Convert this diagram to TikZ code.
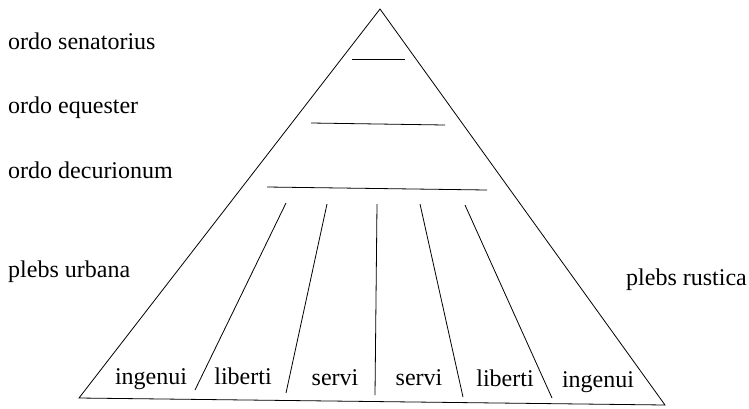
\documentclass[tikz,border=0pt]{standalone}
\usepackage{fontspec}
\setmainfont{Liberation Serif}
\begin{document}
\begin{tikzpicture}[x=1pt,y=-1pt,
  ln/.style={line width=0.8pt,black},
  lab/.style={font=\fontsize{24}{28}\selectfont,inner sep=0pt},
  leftlab/.style={lab,anchor=base west},
  botlab/.style={lab,anchor=base}]
\useasboundingbox (0,0) rectangle (749,408);
% triangle
\coordinate (apex) at (380,9);
\coordinate (bl) at (79,398);
\coordinate (br) at (665,405);
\draw[ln,line join=miter] (apex) -- (bl) -- (br) -- cycle;
% horizontal strata
\coordinate (s1) at (352,59);  \coordinate (s2) at (405,59);
\coordinate (e1) at (311,123); \coordinate (e2) at (445,125);
\coordinate (d1) at (267,187); \coordinate (d2) at (487,190);
\draw[ln] (s1) -- (s2);
\draw[ln] (e1) -- (e2);
\draw[ln] (d1) -- (d2);
% dividers
\coordinate (t1) at (286,203); \coordinate (b1) at (195,390);
\coordinate (t2) at (327,204); \coordinate (b2) at (286,393);
\coordinate (t3) at (377,204); \coordinate (b3) at (375,395);
\coordinate (t4) at (420,204); \coordinate (b4) at (463,397);
\coordinate (t5) at (465,205); \coordinate (b5) at (552,398);
\foreach \i in {1,...,5} \draw[ln] (t\i) -- (b\i);
% labels
\node[leftlab] (sen) at (8,49) {ordo senatorius};
\node[leftlab] (equ) at (8,113) {ordo equester};
\node[leftlab] (dec) at (8,178) {ordo decurionum};
\node[leftlab] (urb) at (8,277) {plebs urbana};
\node[leftlab] (rus) at (626,285) {plebs rustica};
\node[botlab] (ing1) at (151,384) {ingenui};
\node[botlab] (lib1) at (243,384) {liberti};
\node[botlab] (ser1) at (335,385) {servi};
\node[botlab] (ser2) at (419,385) {servi};
\node[botlab] (lib2) at (505,386) {liberti};
\node[botlab] (ing2) at (598,387) {ingenui};
\end{tikzpicture}
\end{document}
